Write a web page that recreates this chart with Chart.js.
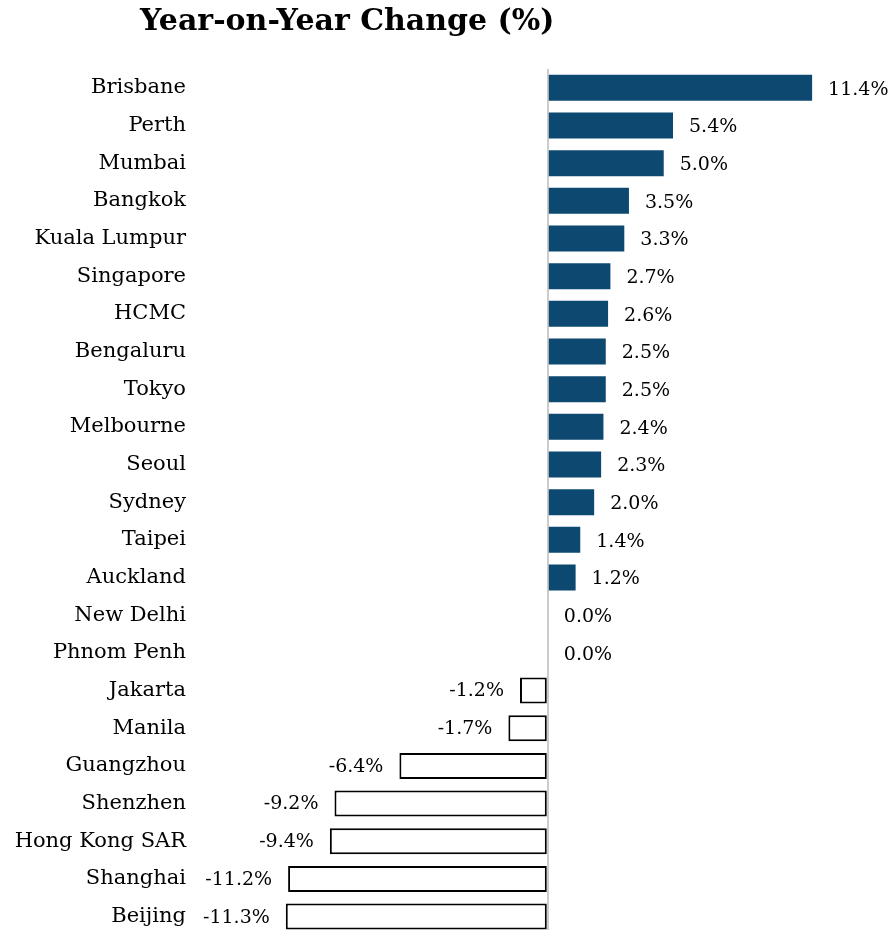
<!DOCTYPE html>
<html>
<head>
<meta charset="utf-8">
<script src="https://cdn.jsdelivr.net/npm/chart.js@4/dist/chart.umd.min.js"></script>
<style>
html,body{margin:0;padding:0;background:#fff;overflow:hidden;}
#c{display:block;}
</style>
</head>
<body>
<canvas id="c" width="892" height="962" style="width:892px;height:962px"></canvas>
<script>
const titleText = "Year-on-Year Change (%)";
const cities = ["Brisbane","Perth","Mumbai","Bangkok","Kuala Lumpur","Singapore","HCMC","Bengaluru","Tokyo","Melbourne","Seoul","Sydney","Taipei","Auckland","New Delhi","Phnom Penh","Jakarta","Manila","Guangzhou","Shenzhen","Hong Kong SAR","Shanghai","Beijing"];
const changes = [11.4,5.4,5.0,3.5,3.3,2.7,2.6,2.5,2.5,2.4,2.3,2.0,1.4,1.2,0.0,0.0,-1.2,-1.7,-6.4,-9.2,-9.4,-11.2,-11.3];

const SERIF = "'DejaVu Serif', 'Liberation Serif', serif";
const BLUE = '#0c4870';

const titlePlugin = {
  id: 'customTitle',
  afterDraw(chart) {
    const ctx = chart.ctx;
    ctx.save();
    ctx.font = "bold 30px " + SERIF;
    ctx.fillStyle = '#000';
    ctx.textAlign = 'left';
    ctx.textBaseline = 'middle';
    ctx.fillText(titleText, 140, 22);
    ctx.restore();
  }
};

const labelPlugin = {
  id: 'valueLabels',
  afterDatasetsDraw(chart) {
    const ctx = chart.ctx;
    const meta = chart.getDatasetMeta(0);
    const xScale = chart.scales.x;
    const zero = xScale.getPixelForValue(0);
    ctx.save();
    ctx.font = "19px " + SERIF;
    ctx.fillStyle = '#000';
    ctx.textBaseline = 'middle';
    meta.data.forEach((bar, i) => {
      const v = changes[i];
      const txt = v.toFixed(1) + '%';
      if (v >= 0) {
        ctx.textAlign = 'left';
        ctx.fillText(txt, Math.max(bar.x, zero) + 16, bar.y + 2);
      } else {
        ctx.textAlign = 'right';
        ctx.fillText(txt, bar.x - 16, bar.y + 1);
      }
    });
    ctx.restore();
  }
};

new Chart(document.getElementById('c'), {
  type: 'bar',
  data: {
    labels: cities,
    datasets: [{
      data: changes,
      backgroundColor: changes.map(v => v >= 0 ? BLUE : '#ffffff'),
      borderColor: changes.map(v => v >= 0 ? BLUE : '#000000'),
      borderWidth: changes.map(v => v >= 0 ? 0 : 2),
      borderSkipped: false,
      barPercentage: 0.69,
      categoryPercentage: 1.0
    }]
  },
  options: {
    indexAxis: 'y',
    responsive: false,
    animation: false,
    devicePixelRatio: 1,
    layout: { padding: { top: 69, right: 8, bottom: 5, left: 0 } },
    plugins: { legend: { display: false }, title: { display: false }, tooltip: { enabled: false } },
    scales: {
      x: {
        min: -15,
        max: 14.5,
        afterFit(scale) { scale.height = 0; },
        ticks: { display: false, stepSize: 5 },
        border: { display: false },
        grid: {
          drawTicks: false,
          lineWidth: 2,
          color: (c) => (c.tick && c.tick.value === 0) ? '#cccccc' : 'rgba(0,0,0,0)'
        }
      },
      y: {
        afterFit(scale) { scale.width = 200; },
        border: { display: false },
        grid: { display: false, drawTicks: false },
        ticks: { color: '#000', padding: 14, font: { family: SERIF, size: 21 } }
      }
    }
  },
  plugins: [titlePlugin, labelPlugin]
});
</script>
</body>
</html>
